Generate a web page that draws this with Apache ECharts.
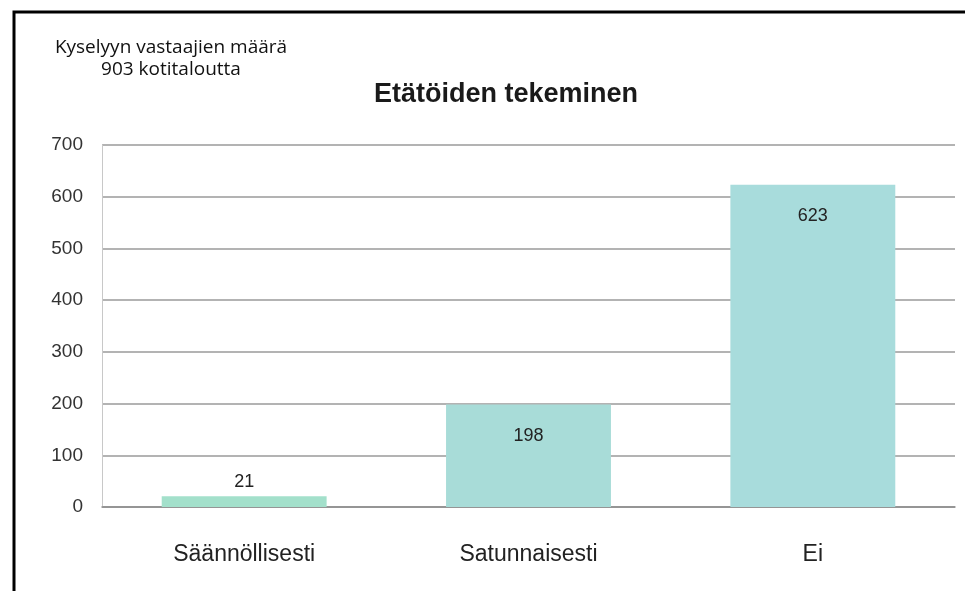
<!DOCTYPE html>
<html>
<head>
<meta charset="utf-8">
<script src="https://cdn.jsdelivr.net/npm/echarts@6/dist/echarts.min.js"></script>
<style>
  html, body { margin: 0; padding: 0; background: #fff; }
  #chart { width: 965px; height: 591px; }
</style>
</head>
<body>
<div id="chart"></div>
<script>
// Etätöiden tekeminen – kyselyn vastaukset
const categories = ['Säännöllisesti', 'Satunnaisesti', 'Ei'];
const answers = [21, 198, 623];
const barColors = ['#a3e0cb', '#a8dcd8', '#a8dcdc'];
const yTicks = [0, 100, 200, 300, 400, 500, 600, 700];
const noteLines = ['Kyselyyn vastaajien määrä', '903 kotitaloutta'];

const chart = echarts.init(document.getElementById('chart'));

const option = {
  backgroundColor: '#fff',
  animation: false,
  title: {
    text: 'Etätöiden tekeminen',
    left: 501,
    textAlign: 'center',
    top: 76,
    textStyle: {
      fontFamily: 'Liberation Sans',
      fontWeight: 'bold',
      fontSize: 27,
      color: '#1a1a1a',
    },
  },
  graphic: [
    {
      type: 'rect',
      shape: { x: 14, y: 12, width: 1000, height: 700 },
      style: { fill: 'none', stroke: '#000', lineWidth: 3 },
    },
    {
      type: 'text',
      x: 171,
      y: 37,
      style: {
        text: noteLines.join('\n'),
        align: 'center',
        verticalAlign: 'top',
        font: '19px "Open Sans"',
        fill: '#111',
        lineHeight: 22,
      },
    },
  ],
  grid: { left: 102, right: 10, top: 145, bottom: 84 },
  xAxis: {
    type: 'category',
    data: categories,
    axisLine: { lineStyle: { color: '#8c8c8c', width: 1.5 } },
    axisTick: { show: false },
    axisLabel: {
      margin: 36,
      fontFamily: 'Liberation Sans',
      fontSize: 23,
      color: '#222',
    },
  },
  yAxis: {
    type: 'value',
    min: yTicks[0],
    max: yTicks[yTicks.length - 1],
    interval: 100,
    axisLine: { show: true, lineStyle: { color: '#c8c8c8', width: 1 } },
    axisTick: { show: false },
    axisLabel: {
      margin: 19,
      fontFamily: 'Liberation Sans',
      fontSize: 19,
      color: '#333',
    },
    splitLine: { lineStyle: { color: '#9a9a9a', width: 1.5 } },
  },
  series: [{
    type: 'bar',
    barWidth: '58%',
    data: answers.map((v, i) => ({
      value: v,
      itemStyle: { color: barColors[i] },
      label: v < 100
        ? { position: 'top', distance: 5 }
        : { position: 'insideTop', distance: 22 },
    })),
    label: {
      show: true,
      fontFamily: 'Liberation Sans',
      fontSize: 18,
      color: '#222',
    },
  }],
};

chart.setOption(option);
</script>
</body>
</html>
